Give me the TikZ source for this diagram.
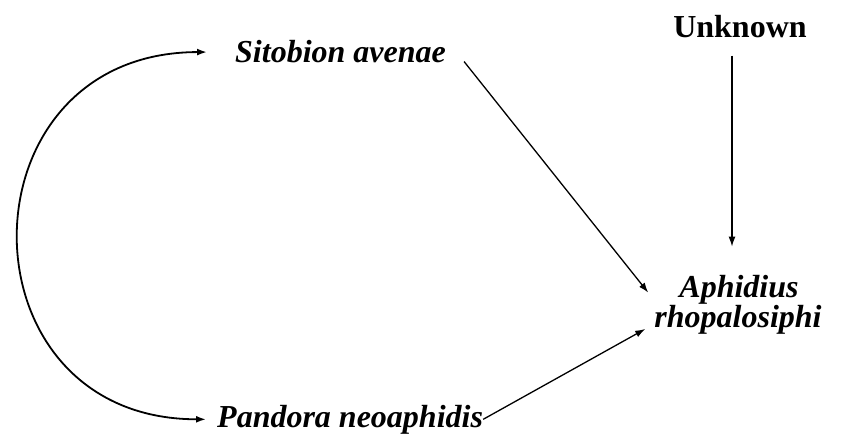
\documentclass[tikz,border=0pt]{standalone}
\usepackage{fontspec}
\setmainfont{Liberation Serif}
\usetikzlibrary{arrows.meta}
\tikzset{
  species/.style = {inner sep=0pt, font=\fontsize{32}{30}\selectfont\bfseries\itshape},
  source/.style  = {inner sep=0pt, font=\fontsize{32}{30}\selectfont\bfseries},
  arrow/.style   = {-{Latex[length=10pt,width=7pt]}, line width=1.3pt},
  twoway/.style  = {{Latex[length=10pt,width=7pt]}-{Latex[length=10pt,width=7pt]}, line width=1.8pt}
}
\begin{document}
\begin{tikzpicture}[x=1pt,y=-1pt]
  \useasboundingbox (0,0) rectangle (841,436);
  % species and the unknown source
  \node[species, anchor=base west] (sit) at (235,63) {Sitobion avenae};
  \node[species, anchor=base west] (pan) at (217,427) {Pandora neoaphidis};
  \node[source, anchor=base] (unk) at (740,38) {Unknown};
  \node[species, anchor=base] (aph) at (739,297) {Aphidius};
  \node[species, anchor=base] (rho) at (738,327) {rhopalosiphi};
  % connectors
  \draw[twoway] ([xshift=-11pt]pan.west) .. controls +(-250,0) and +(-250,0) .. ([xshift=-28pt]sit.west);
  \draw[arrow] ([shift={(18pt,2pt)}]sit.south east) -- ([shift={(-6pt,12pt)}]rho.north west);
  \draw[arrow] (pan.east) -- ([shift={(-9pt,5pt)}]rho.south west);
  \draw[arrow, shorten <=17pt, shorten >=28pt] ([xshift=-8pt]unk.south) -- ([xshift=-7pt]aph.north);
\end{tikzpicture}
\end{document}
